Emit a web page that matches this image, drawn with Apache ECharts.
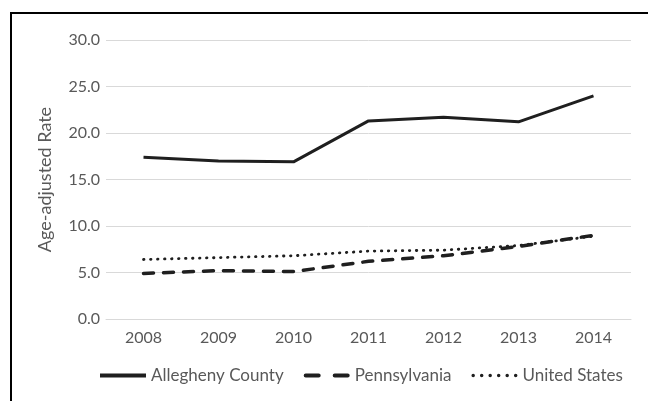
<!DOCTYPE html>
<html>
<head>
<meta charset="utf-8">
<script src="https://cdn.jsdelivr.net/npm/echarts@6/dist/echarts.min.js"></script>
<style>
  html, body { margin: 0; padding: 0; background: #fff; }
  #charts { width: 648px; height: 401px; }
</style>
</head>
<body>
<div id="charts"></div>
<script>
let years = ["2008", "2009", "2010", "2011", "2012", "2013", "2014"];
let allegheny = [17.4, 17.0, 16.9, 21.3, 21.7, 21.2, 24.0];
let pennsylvania = [4.9, 5.2, 5.1, 6.2, 6.8, 7.8, 9.0];
let unitedStates = [6.4, 6.6, 6.8, 7.3, 7.4, 7.9, 8.9];

let chartDom = document.getElementById("charts");
let myChart = echarts.init(chartDom);
let textColor = "#595959";
let lineColor = "#1f1f1f";
let font = "Lato, 'Open Sans', sans-serif";

// legend icons drawn as paths so they look like the line samples
let solidIcon = "path://M0,0H46V4H0Z";
let dashIcon =
  "path://M2,0H15A2,2 0 0 1 15,4H2A2,2 0 0 1 2,0Z M31,0H44A2,2 0 0 1 44,4H31A2,2 0 0 1 31,0Z";
let dotIcon = (function () {
  let p = "path://";
  for (let i = 0; i < 6; i++) {
    let cx = 1.75 + i * 8.5;
    p += "M" + (cx - 1.75) + ",1.75A1.75,1.75 0 1 0 " + (cx + 1.75) + ",1.75A1.75,1.75 0 1 0 " + (cx - 1.75) + ",1.75Z ";
  }
  return p;
})();

let option;

option = {
  animation: false,
  textStyle: { fontFamily: font },
  graphic: [
    {
      // frame: only top and left edges are visible
      type: "rect",
      shape: { x: 11, y: 13, width: 700, height: 500 },
      style: { fill: "none", stroke: "#000", lineWidth: 2 },
    },
  ],
  grid: {
    left: 106,
    right: 17,
    top: 40,
    bottom: 82,
  },
  legend: {
    bottom: 12,
    left: 95,
    itemWidth: 46,
    itemHeight: 4,
    itemGap: 20,
    textStyle: { color: textColor, fontSize: 17, fontFamily: font },
    data: [
      { name: "Allegheny County", icon: solidIcon },
      { name: "Pennsylvania", icon: dashIcon },
      { name: "United States", icon: dotIcon },
    ],
  },
  xAxis: {
    type: "category",
    data: years,
    axisLine: { lineStyle: { color: "#d9d9d9" } },
    axisTick: { show: false },
    axisLabel: { color: textColor, fontSize: 16, margin: 11 },
  },
  yAxis: {
    type: "value",
    min: 0,
    max: 30,
    interval: 5,
    name: "Age-adjusted Rate",
    nameLocation: "middle",
    nameGap: 52,
    nameTextStyle: { color: textColor, fontSize: 18 },
    axisLabel: {
      color: textColor,
      fontSize: 16,
      margin: 6,
      formatter: function (v) {
        return v.toFixed(1);
      },
    },
    splitLine: { lineStyle: { color: "#d9d9d9" } },
  },
  series: [
    {
      name: "Allegheny County",
      type: "line",
      data: allegheny,
      symbol: "none",
      color: lineColor,
      lineStyle: { color: lineColor, width: 3 },
    },
    {
      name: "Pennsylvania",
      type: "line",
      data: pennsylvania,
      symbol: "none",
      color: lineColor,
      lineStyle: { color: lineColor, width: 3.5, type: [10, 10], cap: "round" },
    },
    {
      name: "United States",
      type: "line",
      data: unitedStates,
      symbol: "none",
      color: lineColor,
      lineStyle: { color: lineColor, width: 2.8, type: [0.5, 6.5], cap: "round" },
    },
  ],
};

option && myChart.setOption(option);
</script>
</body>
</html>
